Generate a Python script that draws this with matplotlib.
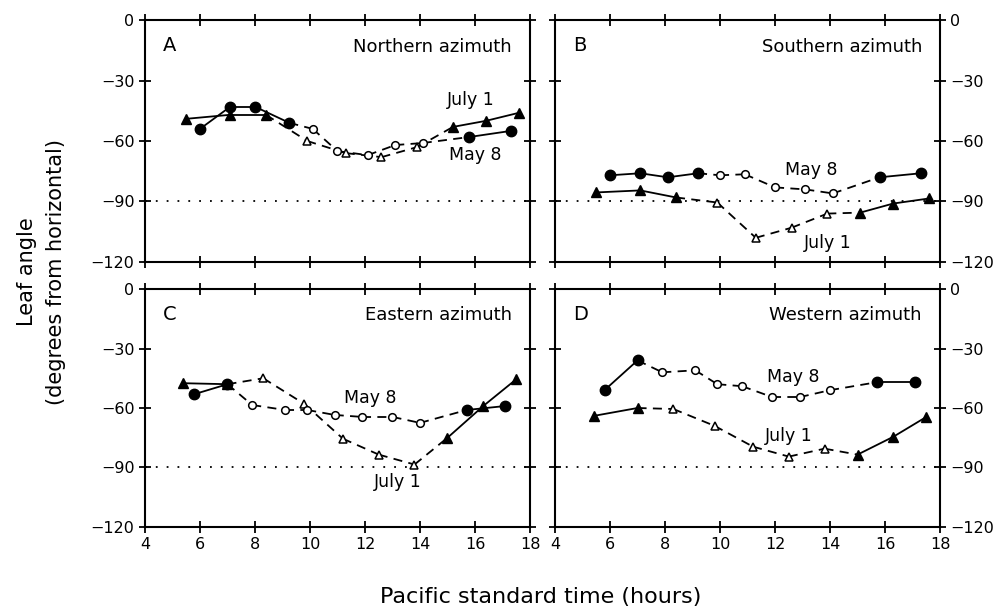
#!/usr/bin/env python3

import numpy as np
import matplotlib.pyplot as plt

plt.rcParams.update({
    'font.family': 'DejaVu Sans',
    'font.size': 12,
    'axes.linewidth': 1.5,
})

# Leaf angle (degrees from horizontal) vs. Pacific standard time (hours)
# fill flags: 1 = filled marker, 0 = open marker

# A - Northern azimuth
a_may_x = [6.0, 7.1, 8.0, 9.25, 10.1, 11.0, 12.1, 13.1, 14.1, 15.8, 17.3]
a_may_y = [-54, -43, -43, -51, -54, -65, -67, -62, -61, -58, -55]
a_may_f = [1, 1, 1, 1, 0, 0, 0, 0, 0, 1, 1]
a_jul_x = [5.5, 7.1, 8.4, 9.9, 11.3, 12.6, 13.9, 15.2, 16.4, 17.6]
a_jul_y = [-49, -47, -47, -60, -66, -68, -63, -53, -50, -46]
a_jul_f = [1, 1, 1, 0, 0, 0, 0, 1, 1, 1]

# B - Southern azimuth
b_may_x = [6.0, 7.1, 8.1, 9.2, 10.0, 10.9, 12.0, 13.1, 14.1, 15.8, 17.3]
b_may_y = [-77, -76, -78, -76, -77, -76.5, -83, -84, -86, -78, -76]
b_may_f = [1, 1, 1, 1, 0, 0, 0, 0, 0, 1, 1]
b_jul_x = [5.5, 7.1, 8.4, 9.9, 11.3, 12.6, 13.9, 15.1, 16.3, 17.6]
b_jul_y = [-85.5, -84.5, -88, -90.5, -108, -103, -96, -95.5, -91, -88.5]
b_jul_f = [1, 1, 1, 0, 0, 0, 0, 1, 1, 1]

# C - Eastern azimuth
c_may_x = [5.8, 7.0, 7.9, 9.1, 9.9, 10.9, 11.9, 13.0, 14.0, 15.7, 17.1]
c_may_y = [-53, -48, -58.5, -61, -61, -63.5, -64.5, -64.5, -67.5, -61, -59]
c_may_f = [1, 1, 0, 0, 0, 0, 0, 0, 0, 1, 1]
c_jul_x = [5.4, 7.0, 8.3, 9.8, 11.2, 12.5, 13.8, 15.0, 16.3, 17.5]
c_jul_y = [-47.5, -48, -45, -58, -75.5, -83.5, -88.5, -75, -59, -45.5]
c_jul_f = [1, 1, 0, 0, 0, 0, 0, 1, 1, 1]

# D - Western azimuth
d_may_x = [5.8, 7.0, 7.9, 9.1, 9.9, 10.8, 11.9, 12.9, 14.0, 15.7, 17.1]
d_may_y = [-51, -36, -42, -41, -48, -49, -54.5, -54.5, -51, -47, -47]
d_may_f = [1, 1, 0, 0, 0, 0, 0, 0, 0, 1, 1]
d_jul_x = [5.4, 7.0, 8.3, 9.8, 11.2, 12.5, 13.8, 15.0, 16.3, 17.5]
d_jul_y = [-64, -60, -60.5, -69, -79.5, -84.5, -80.5, -83.5, -74.5, -64.5]
d_jul_f = [1, 1, 0, 0, 0, 0, 0, 1, 1, 1]

xticks = [4, 6, 8, 10, 12, 14, 16, 18]
yticks = [0, -30, -60, -90, -120]


def draw_series(ax, x, y, f, marker, size_filled, size_open):
    # solid between two filled points, dashed otherwise
    for i in range(len(x) - 1):
        ls = '-' if (f[i] and f[i + 1]) else (0, (5, 3.5))
        ax.plot(x[i:i + 2], y[i:i + 2], color='k', lw=1.3, ls=ls, zorder=2)
    x = np.array(x)
    y = np.array(y)
    f = np.array(f, dtype=bool)
    ax.plot(x[f], y[f], ls='none', marker=marker, ms=size_filled,
            mfc='k', mec='k', zorder=3)
    ax.plot(x[~f], y[~f], ls='none', marker=marker, ms=size_open,
            mfc='white', mec='k', mew=1.1, zorder=3)


# Plot Setup
fig = plt.figure(figsize=(9.97, 6.14), dpi=100)
ax_a = fig.add_axes([0.1454, 0.5733, 0.3862, 0.3941])
ax_b = fig.add_axes([0.5567, 0.5733, 0.3862, 0.3941])
ax_c = fig.add_axes([0.1454, 0.1417, 0.3862, 0.3876])
ax_d = fig.add_axes([0.5567, 0.1417, 0.3862, 0.3876])

panels = [
    (ax_a, 'A', 'Northern azimuth', a_may_x, a_may_y, a_may_f, a_jul_x, a_jul_y, a_jul_f,
     (16.0, -67.0), (15.85, -39.7)),
    (ax_b, 'B', 'Southern azimuth', b_may_x, b_may_y, b_may_f, b_jul_x, b_jul_y, b_jul_f,
     (13.3, -74.4), (13.9, -110.6)),
    (ax_c, 'C', 'Eastern azimuth', c_may_x, c_may_y, c_may_f, c_jul_x, c_jul_y, c_jul_f,
     (12.2, -55.0), (13.2, -97.3)),
    (ax_d, 'D', 'Western azimuth', d_may_x, d_may_y, d_may_f, d_jul_x, d_jul_y, d_jul_f,
     (12.65, -44.4), (12.5, -74.1)),
]

for ax, letter, title, mx, my, mf, jx, jy, jf, may_pos, jul_pos in panels:
    ax.set_xlim(4, 18)
    ax.set_ylim(-120, 0)
    ax.set_xticks(xticks)
    ax.set_yticks(yticks)
    ax.set_yticklabels([str(v).replace('-', '\u2212') for v in yticks])
    ax.tick_params(direction='inout', length=8, width=1.3, top=True, right=True,
                   labelsize=11.5)
    ax.axhline(-90, color='k', lw=1.3, ls=(0, (1, 5)), zorder=1)

    draw_series(ax, jx, jy, jf, '^', 7, 5.5)
    draw_series(ax, mx, my, mf, 'o', 7.5, 5.5)

    ax.text(0.047, 0.893, letter, transform=ax.transAxes, fontsize=14,
            ha='left', va='center')
    ax.text(0.953, 0.89, title, transform=ax.transAxes, fontsize=13,
            ha='right', va='center')
    ax.text(may_pos[0], may_pos[1], 'May 8', fontsize=12.5, ha='center', va='center')
    ax.text(jul_pos[0], jul_pos[1], 'July 1', fontsize=12.5, ha='center', va='center')

for ax in (ax_a, ax_b):
    ax.tick_params(labelbottom=False)
for ax in (ax_b, ax_d):
    ax.tick_params(labelleft=False, labelright=True)

fig.text(0.027, 0.557, 'Leaf angle', rotation=90, fontsize=15,
         ha='center', va='center')
fig.text(0.056, 0.557, '(degrees from horizontal)', rotation=90, fontsize=15,
         ha='center', va='center')
fig.text(0.542, 0.028, 'Pacific standard time (hours)', fontsize=16,
         ha='center', va='center')

plt.savefig('out.png', dpi=100)
plt.close()
